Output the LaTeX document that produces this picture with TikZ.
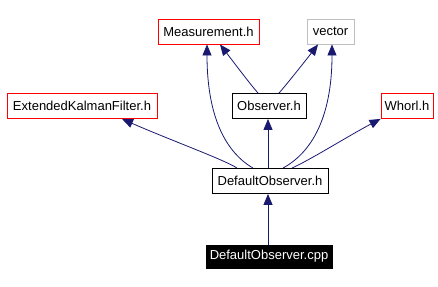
\documentclass[tikz,border=0pt]{standalone}
\usepackage{fontspec}
\setmainfont{Liberation Sans}
\usetikzlibrary{arrows.meta}
\definecolor{edgeblue}{HTML}{191970}
\definecolor{linkred}{HTML}{FF0000}
\definecolor{extgrey}{HTML}{BFBFBF}
\tikzset{
  filebox/.style={draw, line width=0.9pt, minimum height=25pt, inner sep=0pt,
    font=\fontsize{13}{15}\selectfont, anchor=center},
  redbox/.style={filebox, draw=linkred},
  greybox/.style={filebox, draw=extgrey},
  blackbox/.style={filebox, draw=black},
  srcbox/.style={filebox, draw=black, fill=black, text=white},
  dep/.style={draw=edgeblue, line width=0.8pt,
    -{Triangle[length=11pt,width=9pt]}, fill=none},
}
\begin{document}
\begin{tikzpicture}[x=1pt,y=-1pt]
  \useasboundingbox (0,0) rectangle (438,286);

  % headers and files
  \node[redbox,   minimum width=101pt] (meas)  at (208.5,31.5) {Measurement.h};
  \node[greybox,  minimum width=47pt]  (vec)   at (330.5,31.5) {vector};
  \node[redbox,   minimum width=150pt] (ekf)   at (82,106)     {ExtendedKalmanFilter.h};
  \node[blackbox, minimum width=74pt]  (obs)   at (269,106)    {Observer.h};
  \node[redbox,   minimum width=52pt]  (whorl) at (407,106)    {Whorl.h};
  \node[blackbox, minimum width=116pt] (dobs)  at (270,181)    {DefaultObserver.h};
  \node[srcbox,   minimum width=126pt, minimum height=23pt] (cpp) at (269,256.5) {DefaultObserver.cpp};

  % include dependencies
  \draw[dep] (cpp.north -| 268,0) -- (dobs.south -| 268,0);
  \draw[dep] (dobs.north -| 268,0) -- (obs.south -| 268,0);
  \draw[dep] (dobs.north -| 253,0) .. controls (222,150) and (207,110) .. (meas.south -| 207,0);
  \draw[dep] (dobs.north -| 283,0) .. controls (316,150) and (332,110) .. (vec.south -| 332,0);
  \draw[dep] (obs.north -| 258,0) .. controls (250,84) and (232,60) .. (meas.south -| 220,0);
  \draw[dep] (obs.north -| 279,0) .. controls (287,84) and (306,60) .. (vec.south -| 318,0);
  \draw[dep] (dobs.north -| 237,0) .. controls (225,160) and (170,140) .. (ekf.south -| 122,0);
  \draw[dep] (dobs.north -| 292,0) .. controls (310,160) and (350,135) .. (whorl.south west);
\end{tikzpicture}
\end{document}
